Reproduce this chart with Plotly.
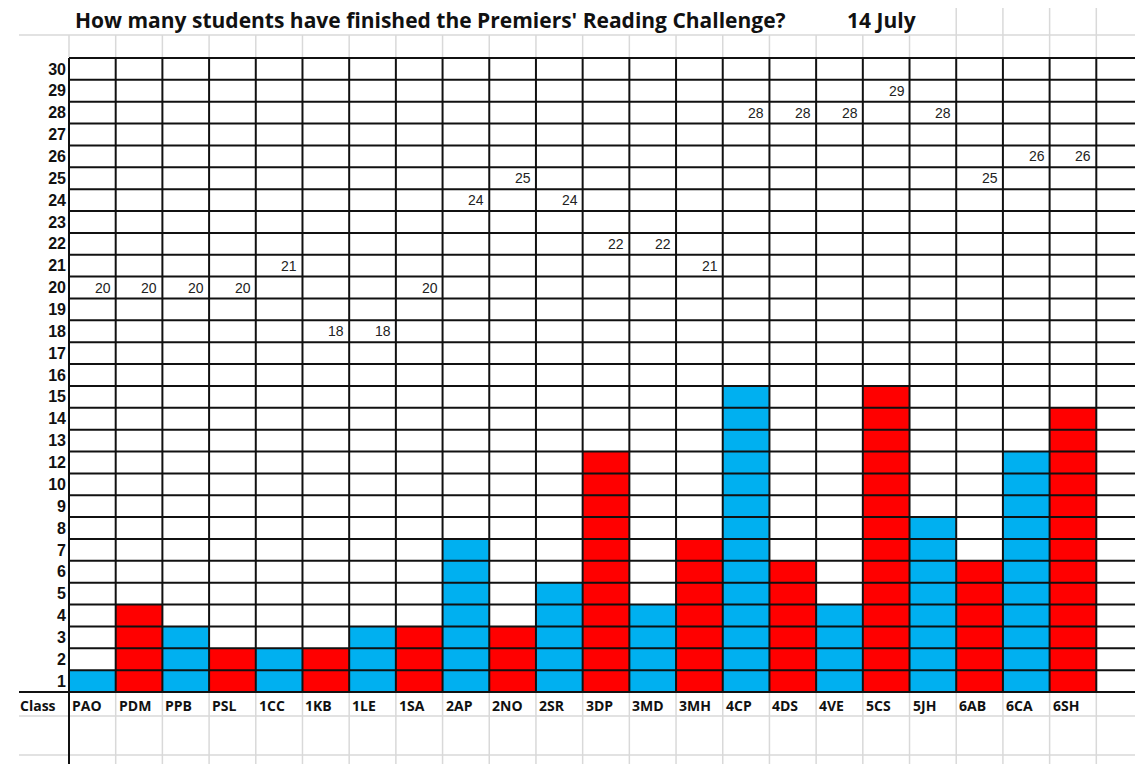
import plotly.graph_objects as go

# ---------------- data ----------------
classes = ["PAO", "PDM", "PPB", "PSL", "1CC", "1KB", "1LE", "1SA", "2AP", "2NO", "2SR",
           "3DP", "3MD", "3MH", "4CP", "4DS", "4VE", "5CS", "5JH", "6AB", "6CA", "6SH"]
# number of filled cells (students finished) per class
finished = [1, 4, 3, 2, 2, 2, 3, 3, 7, 3, 5, 11, 4, 7, 14, 6, 4, 14, 8, 6, 11, 13]
# class sizes written in the grid
class_size = [20, 20, 20, 20, 21, 18, 18, 20, 24, 25, 24, 22, 22, 21, 28, 28, 28, 29, 28, 25, 26, 26]
# row labels as printed (bottom to top, note 11 is missing)
row_labels = [1, 2, 3, 4, 5, 6, 7, 8, 9, 10, 12, 13, 14, 15, 16, 17, 18, 19, 20,
              21, 22, 23, 24, 25, 26, 27, 28, 29, 30]
bar_colors = ["#00B0F0", "#FF0000"] * 11

OFF = 8  # default page body margin
W, H = 1143 - OFF, 764 - OFF
ML, MT = 69 - OFF, 58 - OFF
MR, MB = 0, 764 - 692
PW, PH = W - ML - MR, H - MT - MB
NCOL = len(classes) + 1
NROW = len(row_labels)


def px_x(p):  # screen pixel -> paper x
    return (p - 69) / PW


def px_y(p):  # screen pixel -> paper y
    return (692 - p) / PH


def col_paper(x):  # data x -> paper x
    return (x + 0.5) / NCOL


fig = go.Figure()
fig.add_trace(go.Bar(
    x=list(range(len(classes))), y=finished, width=1,
    marker=dict(color=bar_colors, line=dict(width=0)),
    hoverinfo="skip", showlegend=False,
))

shapes = []
BLACK = "#111111"
GRAY = "#d9d9d9"
# spreadsheet gray lines below the grid
for yy in (716, 755):
    shapes.append(dict(type="line", xref="paper", yref="paper", x0=px_x(19), x1=1,
                       y0=px_y(yy), y1=px_y(yy), line=dict(color=GRAY, width=1.5), layer="below"))
for i in range(1, NCOL):
    xp = col_paper(i - 0.5)
    shapes.append(dict(type="line", xref="paper", yref="paper", x0=xp, x1=xp,
                       y0=px_y(775), y1=px_y(693), line=dict(color=GRAY, width=1.5), layer="below"))
# spreadsheet gray lines above the grid
shapes.append(dict(type="line", xref="paper", yref="paper", x0=px_x(19), x1=1,
                   y0=px_y(35), y1=px_y(35), line=dict(color=GRAY, width=1.5), layer="below"))
for i in range(0, NCOL + 1):
    xp = col_paper(i - 0.5)
    top = 5 if 19 <= i <= 22 else 35
    shapes.append(dict(type="line", xref="paper", yref="paper", x0=xp, x1=xp,
                       y0=px_y(57), y1=px_y(top), line=dict(color=GRAY, width=1.5), layer="below"))
# horizontal black grid lines
for k in range(NROW + 1):
    x0 = px_x(19) if k == 0 else 0
    shapes.append(dict(type="line", xref="paper", yref="paper", x0=x0, x1=1,
                       y0=k / NROW, y1=k / NROW, line=dict(color=BLACK, width=2), layer="above"))
# vertical black grid lines
for i in range(len(classes) + 1):
    xp = col_paper(i - 0.5)
    y0 = px_y(775) if i == 0 else 0
    shapes.append(dict(type="line", xref="paper", yref="paper", x0=xp, x1=xp,
                       y0=y0, y1=1, line=dict(color=BLACK, width=2), layer="above"))

annotations = []
# class sizes inside grid
for i, s in enumerate(class_size):
    annotations.append(dict(x=i + 0.5, y=row_labels.index(s) + 0.5, xref="x", yref="y",
                            text=str(s), showarrow=False, xanchor="right", yanchor="middle",
                            xshift=-3, font=dict(family="Liberation Sans", size=14, color="#222")))
# class names
LBL_FONT = dict(family="Open Sans", size=14, color="#111", weight="bold")
for i, c in enumerate(classes):
    annotations.append(dict(x=i - 0.5, y=px_y(705), xref="x", yref="paper", text=c,
                            showarrow=False, xanchor="left", yanchor="middle", xshift=1,
                            font=LBL_FONT))
annotations.append(dict(x=px_x(18), y=px_y(705), xref="paper", yref="paper", text="Class",
                        showarrow=False, xanchor="left", yanchor="middle", font=LBL_FONT))
# title
TITLE_FONT = dict(family="Open Sans", size=21, color="#111", weight="bold")
annotations.append(dict(x=px_x(73), y=px_y(20), xref="paper", yref="paper",
                        text="How many students have finished the Premiers' Reading Challenge?",
                        showarrow=False, xanchor="left", yanchor="middle", font=TITLE_FONT))
annotations.append(dict(x=px_x(845), y=px_y(20), xref="paper", yref="paper",
                        text="14 July", showarrow=False, xanchor="left", yanchor="middle",
                        font=TITLE_FONT))

fig.update_layout(
    width=W, height=H,
    margin=dict(l=ML, r=MR, t=MT, b=MB, autoexpand=False),
    paper_bgcolor="white", plot_bgcolor="white",
    shapes=shapes, annotations=annotations,
    xaxis=dict(range=[-0.5, NCOL - 0.5], showgrid=False, zeroline=False,
               showticklabels=False, ticks="", fixedrange=True),
    yaxis=dict(range=[0, NROW], showgrid=False, zeroline=False, ticks="",
               tickvals=[k + 0.5 for k in range(NROW)], ticktext=[str(v) for v in row_labels],
               tickfont=dict(family="Liberation Sans", size=16, color="#111", weight="bold"),
               ticklabelstandoff=2, fixedrange=True),
    showlegend=False,
)

fig.write_html("out.html")
